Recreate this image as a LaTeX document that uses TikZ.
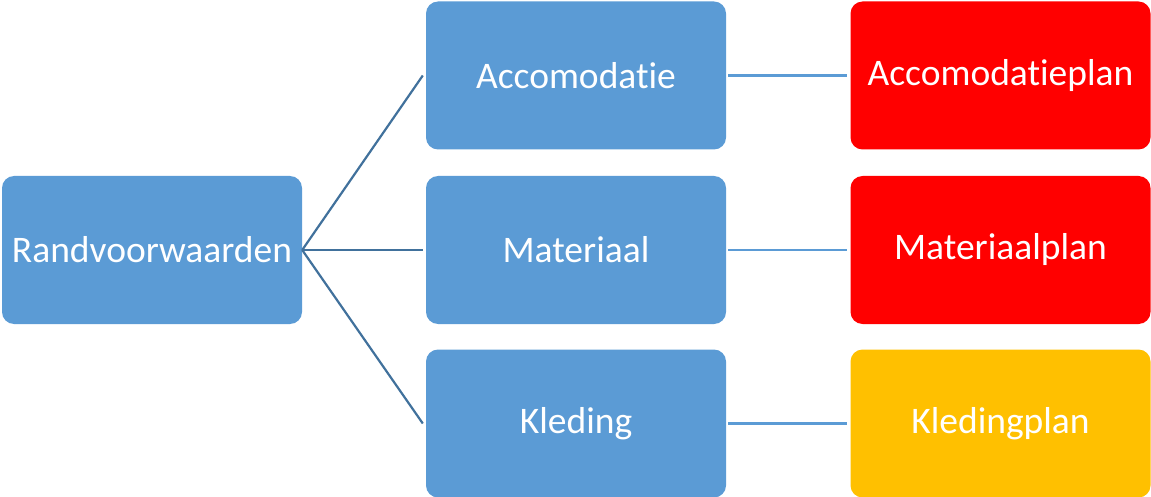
\documentclass[tikz,border=0pt]{standalone}
\usepackage{fontspec}
\setmainfont{Carlito}[Ligatures={NoCommon}]
\definecolor{boxblue}{HTML}{5B9BD5}
\definecolor{boxred}{HTML}{FF0000}
\definecolor{boxyellow}{HTML}{FFC000}
\definecolor{linedark}{HTML}{41719C}
\definecolor{linelight}{HTML}{5B9BD5}
\begin{document}
\begin{tikzpicture}[x=1pt,y=-1pt,
  box/.style={rounded corners=12pt, minimum width=300pt, minimum height=148pt, inner sep=0pt,
    text=white, font=\fontsize{37.5}{42}\selectfont},
  bluebox/.style={box, fill=boxblue},
  redbox/.style={box, fill=boxred},
  yellowbox/.style={box, fill=boxyellow},
  tree/.style={draw=linedark, line width=2.2pt},
  link/.style={draw=linelight, line width=2.4pt}]
\useasboundingbox (0,0) rectangle (1151,497);
\node[bluebox] (rv) at (152,250) {Randvoorwaarden};
\node[bluebox] (acc) at (576,75.5) {Accomodatie};
\node[bluebox] (mat) at (576,250) {Materiaal};
\node[bluebox] (kle) at (576,423.5) {Kleding};
\node[redbox] (accp) at (1000.5,75.5) {Accomodatieplan};
\node[redbox] (matp) at (1000.5,250) {Materiaalplan};
\node[yellowbox] (klep) at (1000.5,423.5) {Kledingplan};
\path[tree] (rv.east) -- ([xshift=-3pt]acc.west);
\path[tree] (rv.east) -- ([xshift=-3pt]mat.west);
\path[tree] (rv.east) -- ([xshift=-3pt]kle.west);
\path[link] ([xshift=2pt]acc.east) -- ([xshift=-3pt]accp.west);
\path[link] ([xshift=2pt]mat.east) -- ([xshift=-3pt]matp.west);
\path[link] ([xshift=2pt]kle.east) -- ([xshift=-3pt]klep.west);
\end{tikzpicture}
\end{document}
